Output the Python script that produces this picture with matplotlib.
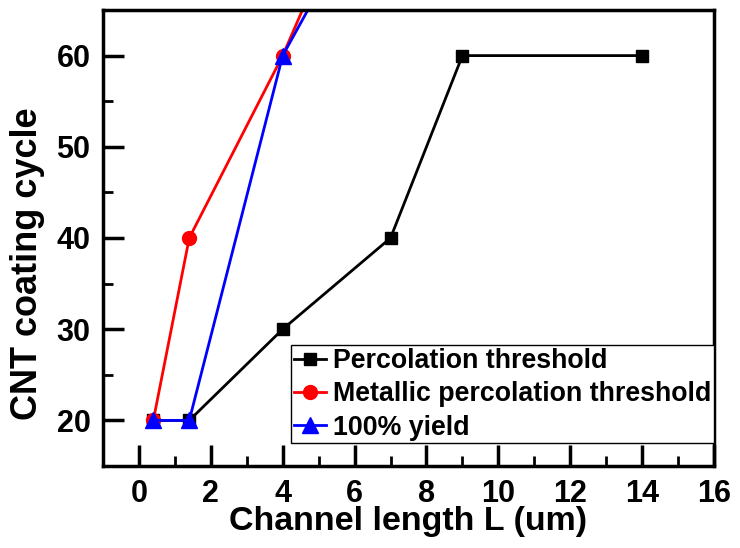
import matplotlib
matplotlib.use("Agg")
import matplotlib.pyplot as plt
from matplotlib.ticker import MultipleLocator

plt.rcParams["font.family"] = ["Liberation Sans", "DejaVu Sans"]
plt.rcParams["font.weight"] = "bold"

# channel length (um) vs. coating cycles for each criterion
perc_L = [0.4, 1.4, 4, 7, 9, 14]
perc_cycle = [20, 20, 30, 40, 60, 60]
metal_L = [0.4, 1.4, 4, 6.2]
metal_cycle = [20, 40, 60, 80]
yield_L = [0.4, 1.4, 4, 6.8]
yield_cycle = [20, 20, 60, 80]

labels = ["Percolation threshold", "Metallic percolation threshold", "100% yield"]

fig = plt.figure(figsize=(7.4, 5.48), dpi=100)
ax = fig.add_axes([103 / 740, 1 - 466 / 548, (714 - 103) / 740, (466 - 10) / 548])

ax.plot(perc_L, perc_cycle, color="black", lw=2, marker="s", ms=9, label=labels[0])
ax.plot(metal_L, metal_cycle, color="red", lw=2, marker="o", ms=10, label=labels[1])
ax.plot(yield_L, yield_cycle, color="blue", lw=2, marker="^", ms=11, label=labels[2])

ax.set_xlim(-1, 16)
ax.set_ylim(15, 65)
ax.xaxis.set_minor_locator(MultipleLocator(1))
ax.yaxis.set_major_locator(MultipleLocator(10))
ax.yaxis.set_minor_locator(MultipleLocator(5))
ax.set_xticks(range(0, 17, 2))
ax.tick_params(which="major", direction="in", length=15, width=2.5, labelsize=22, pad=9)
ax.tick_params(which="minor", direction="in", length=7, width=2)
for lab in ax.get_xticklabels() + ax.get_yticklabels():
    lab.set_fontweight("bold")
for spine in ax.spines.values():
    spine.set_linewidth(2.5)

ax.set_xlabel("Channel length L (um)", fontsize=24.5, fontweight="bold", labelpad=-2)
ax.set_ylabel("CNT coating cycle", fontsize=26, fontweight="bold")
ax.yaxis.set_label_coords(-0.095, 0.443)

leg = ax.legend(loc="lower right", bbox_to_anchor=(1.0, 0.05), fontsize=19.3,
                frameon=True, fancybox=False, framealpha=1, edgecolor="black",
                handlelength=1.2, handletextpad=0.27, borderpad=0.1,
                labelspacing=0.27, borderaxespad=0)
leg.get_frame().set_linewidth(1)

fig.savefig("out.png", dpi=100)
